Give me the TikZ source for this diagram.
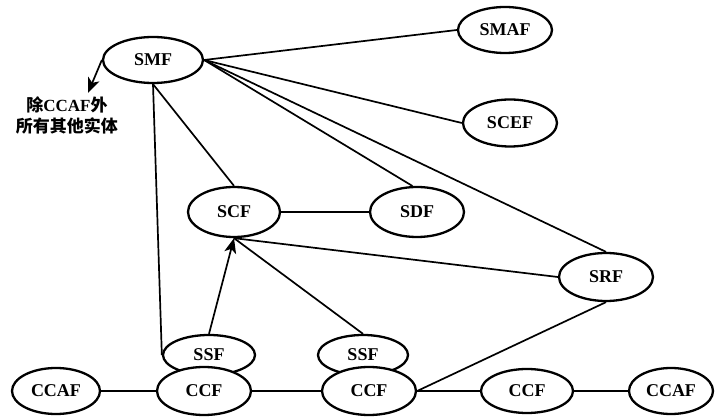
\documentclass[tikz,border=0pt]{standalone}
\usepackage{fontspec}
\setmainfont{Liberation Serif}
\newfontfamily\cjk{Noto Sans CJK SC}
\usetikzlibrary{shapes.geometric,arrows.meta}

\tikzset{
  entity/.style={ellipse, draw, line width=2.3pt, fill=white, inner sep=0pt,
                 font=\fontsize{18}{18}\selectfont\bfseries},
  link/.style={line width=1.7pt},
  arrowlink/.style={link, -{Stealth[length=15pt,width=12pt,inset=4pt]}}
}

\begin{document}
\begin{tikzpicture}[x=1pt,y=-1pt]
  \useasboundingbox (0,0) rectangle (715,419);

  % functional entities
  \node[entity, minimum width=100pt, minimum height=46pt] (smf)  at (153,60)  {SMF};
  \node[entity, minimum width=94pt,  minimum height=46pt] (smaf) at (505,30)  {SMAF};
  \node[entity, minimum width=94pt,  minimum height=47pt] (scef) at (510,123) {SCEF};
  \node[entity, minimum width=92pt,  minimum height=50pt] (scf)  at (234,212) {SCF};
  \node[entity, minimum width=94pt,  minimum height=50pt] (sdf)  at (417,212) {SDF};
  \node[entity, minimum width=94pt,  minimum height=48pt] (srf)  at (606,277) {SRF};
  \node[entity, minimum width=92pt,  minimum height=40pt] (ssfa) at (209,355) {SSF};
  \node[entity, minimum width=90pt,  minimum height=40pt] (ssfb) at (363,355) {SSF};
  \node[entity, minimum width=88pt,  minimum height=46pt] (ccafa) at (56,391) {CCAF};
  \node[entity, minimum width=94pt,  minimum height=48pt] (ccfa) at (204,391) {CCF};
  \node[entity, minimum width=94pt,  minimum height=48pt] (ccfb) at (369,391) {CCF};
  \node[entity, minimum width=92pt,  minimum height=44pt] (ccfc) at (527,391) {CCF};
  \node[entity, minimum width=84pt,  minimum height=46pt] (ccafb) at (671,391) {CCAF};

  % note for the SMF arrow
  \coordinate (tip) at (88,93);
  \node[font=\fontsize{17}{21}\selectfont\bfseries, align=center, anchor=north]
    (note) at (67,93) {{\cjk 除}CCAF{\cjk 外}\\{\cjk 所有其他实体}};

  % relations
  \draw[arrowlink] (smf.west) -- (tip);
  \draw[link] (smf.east) -- (smaf.west);
  \draw[link] (smf.east) -- (scef.west);
  \draw[link] (smf.east) -- (sdf.100);
  \draw[link] (smf.east) -- (srf.north);
  \draw[link] (smf.south) -- (scf.north);
  \draw[link] (smf.south) -- (ssfa.west);
  \draw[arrowlink] (ssfa.north) -- (scf.south);
  \draw[link] (scf.south) -- (ssfb.north);
  \draw[link] (scf.south) -- (srf.west);
  \draw[link] (scf.east) -- (sdf.west);
  \draw[link] (ccafa.east) -- (ccfa.west);
  \draw[link] (ccfa.east) -- (ccfb.west);
  \draw[link] (ccfb.east) -- (ccfc.west);
  \draw[link] (ccfc.east) -- (ccafb.west);
  \draw[link] (ccfb.east) -- (srf.south);
\end{tikzpicture}
\end{document}
